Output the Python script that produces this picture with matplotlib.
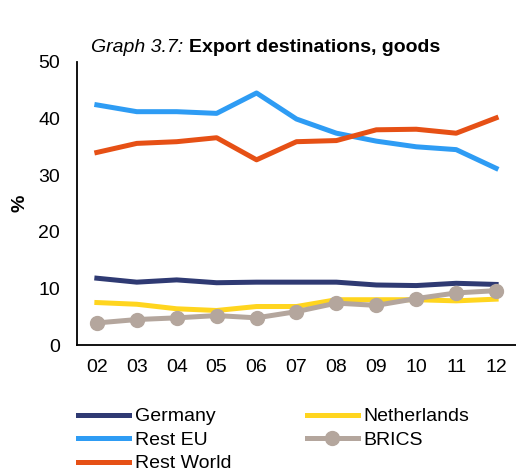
import numpy as np
from matplotlib import pyplot as plt

plt.rcParams['font.family'] = ['Liberation Sans', 'DejaVu Sans']

years = ["02", "03", "04", "05", "06", "07", "08", "09", "10", "11", "12"]
germany = [11.8, 11.1, 11.5, 11.0, 11.1, 11.1, 11.1, 10.6, 10.5, 10.9, 10.7]
netherlands = [7.5, 7.2, 6.4, 6.1, 6.8, 6.8, 8.0, 8.0, 8.0, 7.8, 8.1]
rest_eu = [42.4, 41.2, 41.2, 40.9, 44.5, 39.9, 37.4, 36.0, 35.0, 34.5, 31.2]
brics = [3.9, 4.5, 4.8, 5.2, 4.8, 5.9, 7.4, 7.0, 8.2, 9.2, 9.6]
rest_world = [34.0, 35.6, 35.9, 36.6, 32.7, 35.9, 36.1, 38.0, 38.1, 37.4, 40.1]

x = np.arange(len(years))
lw = 3.6
fs = 14

fig = plt.figure(figsize=(5.16, 4.72), dpi=100)
ax = fig.add_axes([0.149, 0.269, 0.855, 0.600])

h_ger, = ax.plot(x, germany, color="#2f3a73", lw=lw, label="Germany")
h_eu, = ax.plot(x, rest_eu, color="#2e9cf4", lw=lw, label="Rest EU")
h_rw, = ax.plot(x, rest_world, color="#e65015", lw=lw, label="Rest World")
h_nl, = ax.plot(x, netherlands, color="#ffd51f", lw=lw, label="Netherlands")
h_br, = ax.plot(x, brics, color="#b4a69d", lw=lw, marker="o", markersize=10,
                label="BRICS")
# keep the yellow line under the grey one
h_nl.set_zorder(1.5)

ax.set_xlim(-0.5, len(years) - 0.45)
ax.set_ylim(0, 50)
ax.set_yticks([0, 10, 20, 30, 40, 50])
ax.set_xticks(x)
ax.set_xticklabels(years)
ax.tick_params(length=0, labelsize=fs)
ax.tick_params(axis="y", pad=12)
ax.tick_params(axis="x", pad=10)
for side in ["top", "right"]:
    ax.spines[side].set_visible(False)
for side in ["left", "bottom"]:
    ax.spines[side].set_linewidth(1.3)
ax.set_ylabel("%", fontsize=fs, fontweight="bold", labelpad=7)

fig.text(0.366, 0.9, "Graph 3.7: ", fontsize=fs, style="italic", ha="right", va="center")
fig.text(0.366, 0.9, "Export destinations, goods", fontsize=fs, fontweight="bold",
         ha="left", va="center")

handles = [h_ger, h_eu, h_rw, h_nl, h_br]
fig.legend(handles=handles, labels=[h.get_label() for h in handles], ncol=2,
           loc="upper left", bbox_to_anchor=(0.152, 0.136), frameon=False,
           fontsize=fs, handlelength=2.6, handletextpad=0.3, columnspacing=3.9,
           labelspacing=0.3, borderaxespad=0, borderpad=0)

fig.savefig("out.png", dpi=100)
